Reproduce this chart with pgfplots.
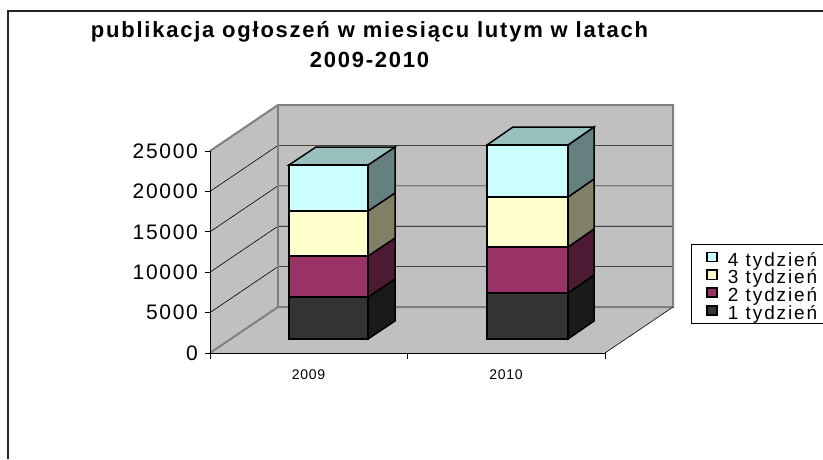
\documentclass[border=0pt]{standalone}
\usepackage{fontspec}
\setmainfont{Liberation Sans}
\newfontfamily\tickfont[LetterSpace=8]{Liberation Sans}
\newfontfamily\legfont[LetterSpace=10]{Liberation Sans}
\newfontfamily\catfont[LetterSpace=5]{Liberation Sans}
\newfontfamily\titlefont[LetterSpace=8]{Liberation Sans Bold}
\usepackage{pgfplots}
\pgfplotsset{compat=1.18}
\definecolor{c4}{HTML}{CCFFFF}\definecolor{c4s}{HTML}{668080}\definecolor{c4t}{HTML}{99BFBF}
\definecolor{c3}{HTML}{FFFFCC}\definecolor{c3s}{HTML}{808066}
\definecolor{c2}{HTML}{993366}\definecolor{c2s}{HTML}{4D1A33}
\definecolor{c1}{HTML}{333333}\definecolor{c1s}{HTML}{1A1A1A}
\definecolor{wallc}{HTML}{C0C0C0}\definecolor{edgec}{HTML}{808080}
\begin{document}
\begin{tikzpicture}[x=1pt,y=1pt]
\useasboundingbox (0,0) rectangle (823,459);
\draw[line width=1.3pt,black!85] (8,0) -- (8,448) -- (823,448);
\begin{axis}[
  at={(210pt,106pt)}, anchor=south west, scale only axis,
  width=395pt, height=202pt,
  xmin=210, xmax=605, ymin=0, ymax=25000,
  clip=false, axis on top,
  axis lines*=left,
  axis line style={black,line width=0.8pt,-},
  tick style={black,line width=0.8pt},
  tick align=outside, major tick length=5.5pt,
  xtick={210,407.5,605}, xticklabels={,,},
  extra x ticks={308.5,506}, extra x tick labels={2009,2010},
  extra x tick style={major tick length=0pt, xticklabel style={yshift=-13pt}},
  x tick label style={font=\catfont\fontsize{14}{14}\selectfont},
  ytick={0,5000,10000,15000,20000,25000},
  y tick label style={font=\tickfont\fontsize{21}{21}\selectfont, inner sep=2pt, xshift=-4.5pt},
  scaled ticks=false,
  /pgf/number format/assume math mode=true,
  /pgf/number format/1000 sep={},
  title={publikacja ogłoszeń w miesiącu lutym w latach\\2009-2010},
  title style={font=\titlefont\fontsize{22}{30}\selectfont, align=center,
     at={(axis cs:369.5,40300)}, anchor=north, inner sep=0pt},
  legend style={at={(axis cs:691,13490)}, anchor=north west, draw=black, line width=0.7pt,
     font=\legfont\fontsize{19}{17}\selectfont, row sep=0pt,
     inner xsep=15pt, inner ysep=3.9pt,
     nodes={inner sep=0pt, text height=17.8pt, text depth=0pt},
     legend cell align=left},
  legend image code/.code={
     \path[draw=none,fill=none] (0pt,0pt) -- (21pt,0pt);
     \draw[#1,line width=1.2pt,black] (0pt,-4.5pt) rectangle (10pt,5pt);
     \fill[#1] (0.6pt,-3.9pt) rectangle (9.4pt,4.4pt);},
  wl/.style={forget plot, fill=wallc, draw=none},
  ge/.style={forget plot, draw=edgec, line width=2pt},
  gr/.style={forget plot, draw=black, line width=0.6pt},
  bar/.style={forget plot, draw=black, line width=1.5pt, line join=miter},
]
% walls and floor
\addplot[wl] coordinates {(210,0) (278,5693) (278,30693) (210,25000)} -- cycle;
\addplot[wl] coordinates {(278,5693) (673,5693) (673,30693) (278,30693)} -- cycle;
\addplot[wl] coordinates {(210,0) (605,0) (673,5693) (278,5693)} -- cycle;
% gridlines
\addplot[gr] coordinates {(210,5000) (278,10693) (673,10693)};
\addplot[gr] coordinates {(210,10000) (278,15693) (673,15693)};
\addplot[gr] coordinates {(210,15000) (278,20693) (673,20693)};
\addplot[gr] coordinates {(210,20000) (278,25693) (673,25693)};
% wall edges
\addplot[ge] coordinates {(210,25000) (278,30693) (673,30693) (673,5693) (278,5693) (210,0)};
\addplot[ge] coordinates {(278,5693) (278,30693)};
\addplot[gr] coordinates {(605,0) (673,5693)};
% bar 2009: side faces
\addplot[bar,fill=c1s] coordinates {(368,1733) (395,3960) (395,9158) (368,6931)} -- cycle;
\addplot[bar,fill=c2s] coordinates {(368,6931) (395,9158) (395,14233) (368,12005)} -- cycle;
\addplot[bar,fill=c3s] coordinates {(368,12005) (395,14233) (395,19802) (368,17574)} -- cycle;
\addplot[bar,fill=c4s] coordinates {(368,17574) (395,19802) (395,25495) (368,23267)} -- cycle;
\addplot[bar,fill=c4t] coordinates {(289,23267) (368,23267) (395,25495) (316,25495)} -- cycle;
% bar 2009: front faces
\addplot[bar,fill=c1] coordinates {(289,1733) (368,1733) (368,6931) (289,6931)} -- cycle;
\addplot[bar,fill=c2] coordinates {(289,6931) (368,6931) (368,12005) (289,12005)} -- cycle;
\addplot[bar,fill=c3] coordinates {(289,12005) (368,12005) (368,17574) (289,17574)} -- cycle;
\addplot[bar,fill=c4] coordinates {(289,17574) (368,17574) (368,23267) (289,23267)} -- cycle;
% bar 2010: side faces
\addplot[bar,fill=c1s] coordinates {(568,1733) (594,3960) (594,9653) (568,7426)} -- cycle;
\addplot[bar,fill=c2s] coordinates {(568,7426) (594,9653) (594,15346) (568,13119)} -- cycle;
\addplot[bar,fill=c3s] coordinates {(568,13119) (594,15346) (594,21535) (568,19307)} -- cycle;
\addplot[bar,fill=c4s] coordinates {(568,19307) (594,21535) (594,27970) (568,25742)} -- cycle;
\addplot[bar,fill=c4t] coordinates {(487,25742) (568,25742) (594,27970) (513,27970)} -- cycle;
% bar 2010: front faces
\addplot[bar,fill=c1] coordinates {(487,1733) (568,1733) (568,7426) (487,7426)} -- cycle;
\addplot[bar,fill=c2] coordinates {(487,7426) (568,7426) (568,13119) (487,13119)} -- cycle;
\addplot[bar,fill=c3] coordinates {(487,13119) (568,13119) (568,19307) (487,19307)} -- cycle;
\addplot[bar,fill=c4] coordinates {(487,19307) (568,19307) (568,25742) (487,25742)} -- cycle;
% legend
\addlegendimage{fill=c4}\addlegendentry{4 tydzień}
\addlegendimage{fill=c3}\addlegendentry{3 tydzień}
\addlegendimage{fill=c2}\addlegendentry{2 tydzień}
\addlegendimage{fill=c1}\addlegendentry{1 tydzień}
\end{axis}
\end{tikzpicture}
\end{document}
